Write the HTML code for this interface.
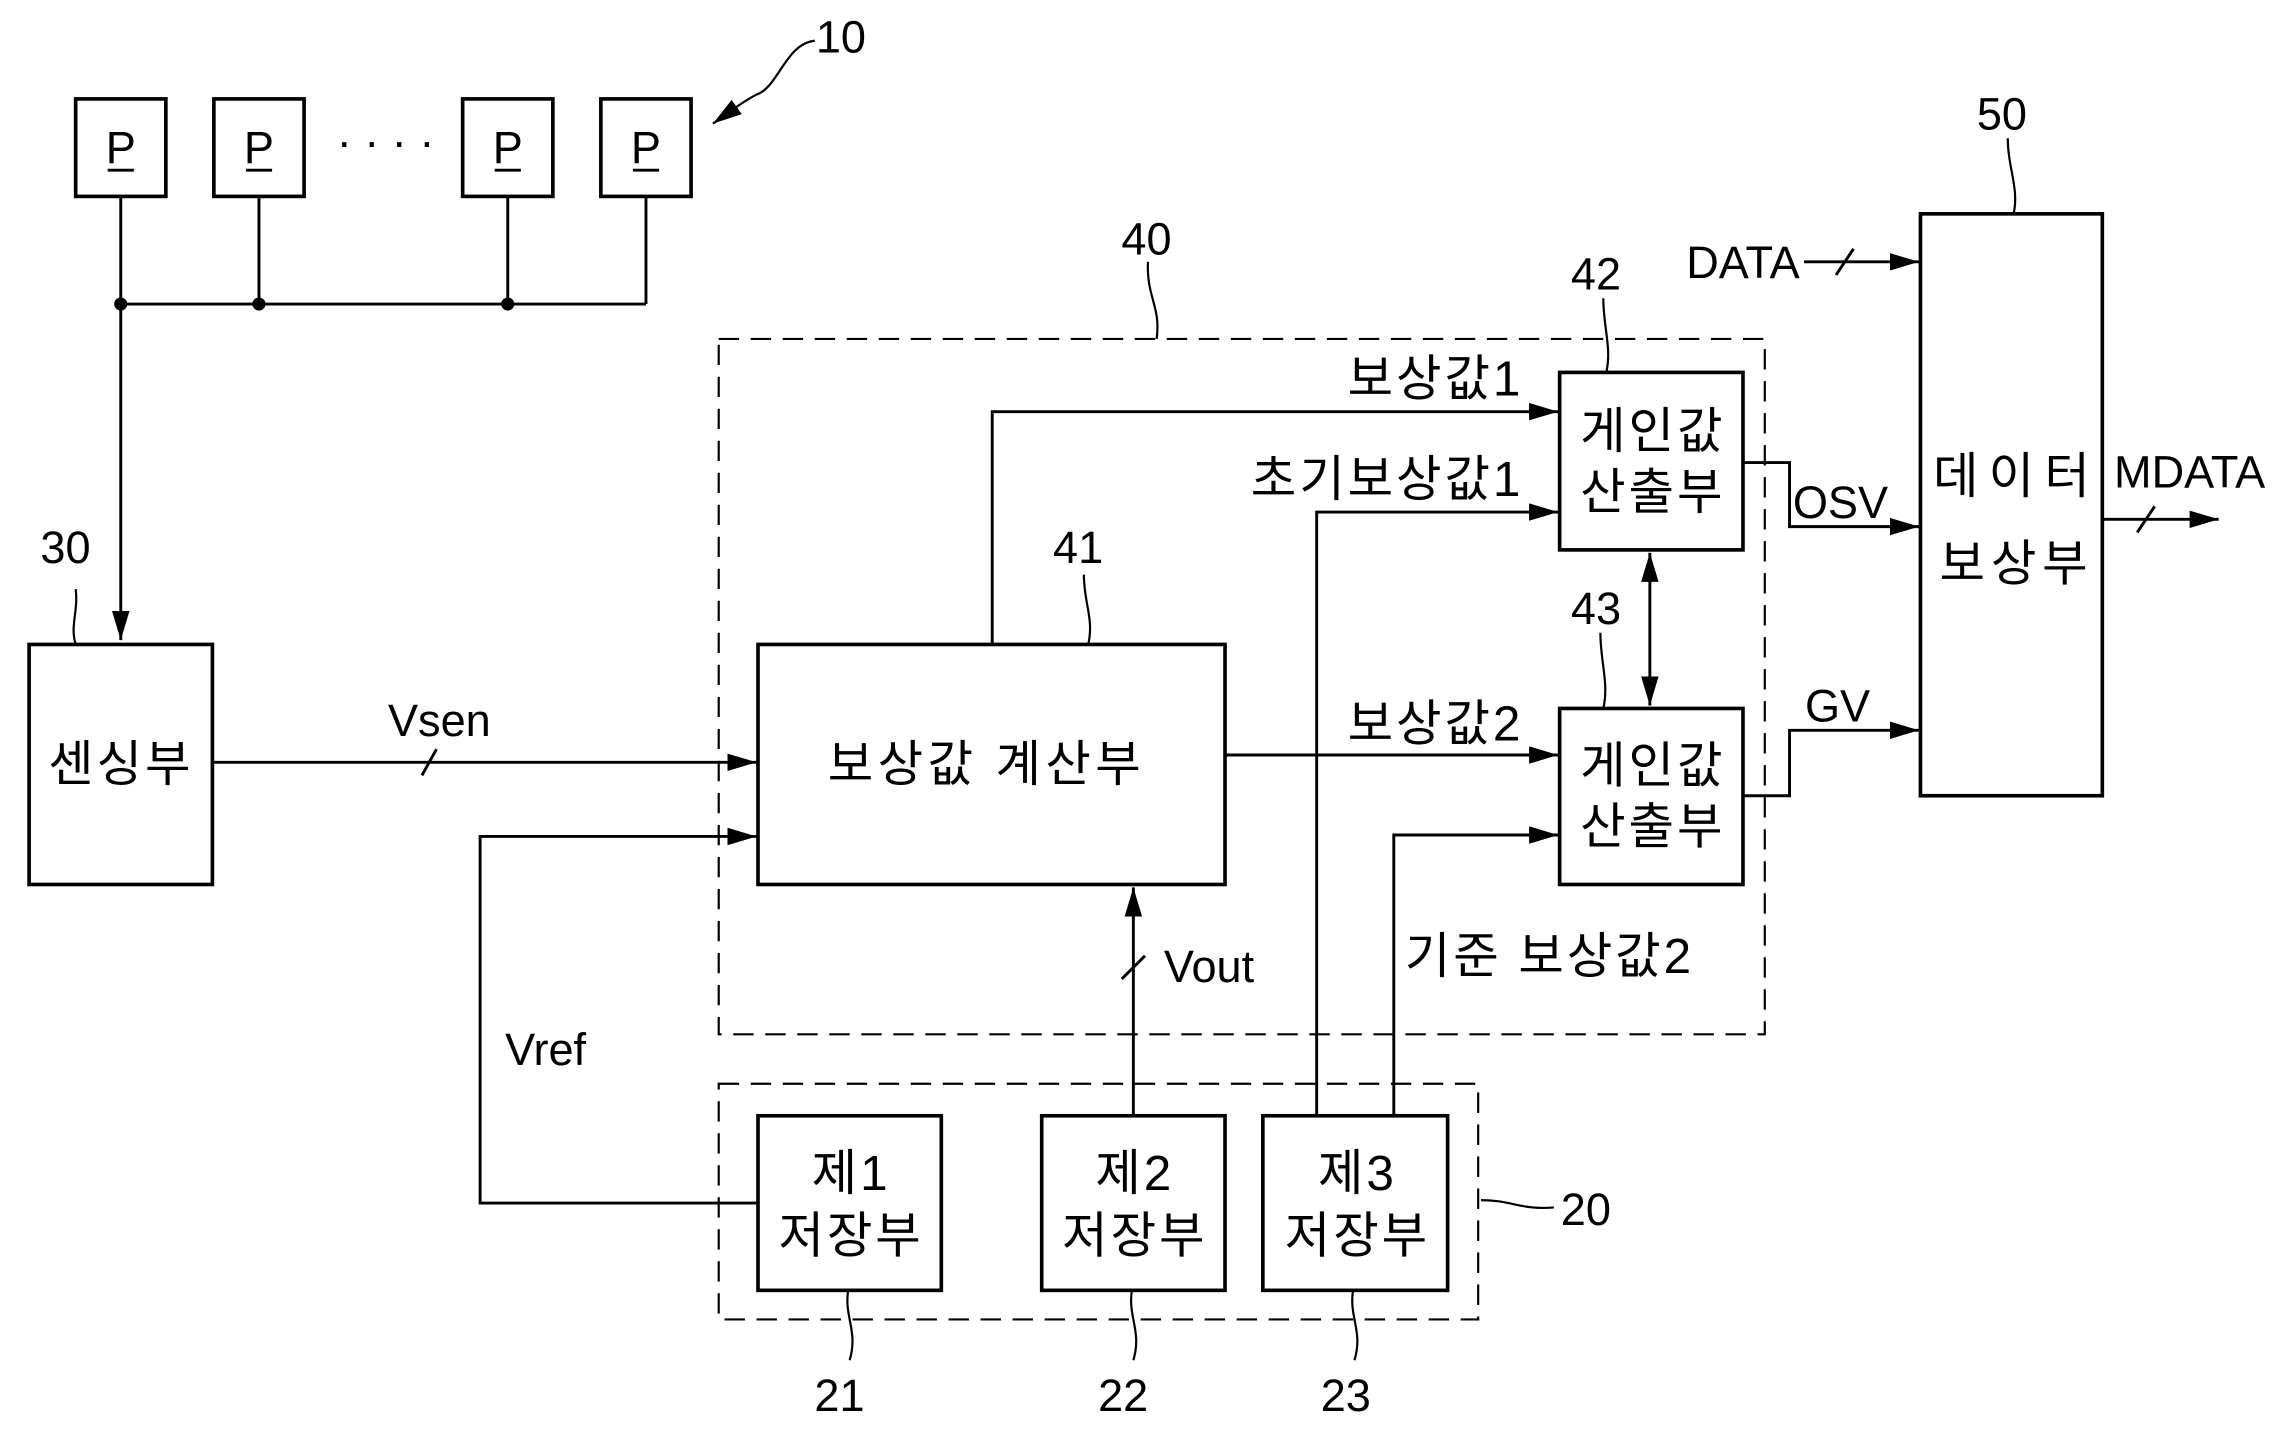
<!DOCTYPE html>
<html><head><meta charset="utf-8"><style>
html,body{margin:0;padding:0;background:#fff;width:2274px;height:1446px;overflow:hidden}
svg{display:block}
text{font-family:"Liberation Sans","Noto Sans CJK KR",sans-serif;fill:#000}
.k{font-size:34px;letter-spacing:2px}
.n{font-size:31px;font-family:"Liberation Sans Narrow","Liberation Sans",sans-serif}
</style></head><body>
<svg width="2274" height="1446" viewBox="0 0 1563 994" preserveAspectRatio="none" xmlns="http://www.w3.org/2000/svg">
<defs><marker id="a" markerWidth="20" markerHeight="12" refX="20" refY="6" orient="auto" markerUnits="userSpaceOnUse"><path d="M0,0 L20,6 L0,12 Z" fill="#000"/></marker>
<marker id="b" markerWidth="20" markerHeight="12" refX="20" refY="6" orient="auto-start-reverse" markerUnits="userSpaceOnUse"><path d="M0,0 L20,6 L0,12 Z" fill="#000"/></marker></defs>
<g fill="none" stroke="#000" stroke-width="2">
<rect x="52" y="68" width="62" height="67" stroke-width="2.5"/>
<rect x="147" y="68" width="62" height="67" stroke-width="2.5"/>
<rect x="318" y="68" width="62" height="67" stroke-width="2.5"/>
<rect x="413" y="68" width="62" height="67" stroke-width="2.5"/>
<path d="M74,117h18M169,117h18M340,117h18M435,117h18"/>
<path d="M83,135V209M178,135V209M349,135V209M444,135V209M83,209H444"/>
<path d="M83,209V440" marker-end="url(#a)"/>
<path d="M560,28 C540,30 535,60 520,65 C510,70 500,78 490,85" stroke-width="1.5" marker-end="url(#a)"/>
<rect x="20" y="443" width="126" height="165" stroke-width="2.5"/>
<path d="M52,405 C54,420 48,430 52,443" stroke-width="1.5"/>
<path d="M146,524H520" marker-end="url(#a)"/>
<path d="M290,533l10,-18"/>
<rect x="494" y="233" width="719" height="478" stroke-dasharray="14,8" stroke-width="1.5"/>
<path d="M789,180 C788,205 798,210 795,233" stroke-width="1.5"/>
<rect x="521" y="443" width="321" height="165" stroke-width="2.5"/>
<path d="M745,395 C745,415 752,425 748,443" stroke-width="1.5"/>
<path d="M521,827H330V575H520" marker-end="url(#a)"/>
<rect x="1072" y="256" width="126" height="122" stroke-width="2.5"/>
<rect x="1072" y="487" width="126" height="121" stroke-width="2.5"/>
<path d="M1102,205 C1102,225 1108,240 1104,256" stroke-width="1.5"/>
<path d="M1100,435 C1100,455 1106,470 1102,487" stroke-width="1.5"/>
<path d="M1134,380V485" marker-start="url(#b)" marker-end="url(#a)"/>
<path d="M682,443V283H1071" marker-end="url(#a)"/>
<path d="M905,767V352H1071" marker-end="url(#a)"/>
<path d="M842,519H1071" marker-end="url(#a)"/>
<path d="M958,767V574H1071" marker-end="url(#a)"/>
<path d="M779,767V610" marker-end="url(#a)"/>
<path d="M771,673l16,-16"/>
<rect x="494" y="745" width="522" height="162" stroke-dasharray="14,8" stroke-width="1.5"/>
<path d="M1018,825 C1040,825 1045,832 1068,830" stroke-width="1.5"/>
<rect x="521" y="767" width="126" height="120" stroke-width="2.5"/>
<rect x="716" y="767" width="126" height="120" stroke-width="2.5"/>
<rect x="868" y="767" width="127" height="120" stroke-width="2.5"/>
<path d="M583,887 C580,905 590,915 584,935M778,887 C775,905 785,915 779,935M930,887 C927,905 937,915 931,935" stroke-width="1.5"/>
<rect x="1320" y="147" width="125" height="400" stroke-width="2.5"/>
<path d="M1380,95 C1380,115 1388,130 1384,147" stroke-width="1.5"/>
<path d="M1240,180H1319" marker-end="url(#a)"/>
<path d="M1262,189l12,-18"/>
<path d="M1198,318H1230V362H1319" marker-end="url(#a)"/>
<path d="M1198,547H1230V502H1319" marker-end="url(#a)"/>
<path d="M1445,357H1525" marker-end="url(#a)"/>
<path d="M1469,366l12,-18"/>
</g>
<g fill="#000"><circle cx="83" cy="209" r="4.5"/><circle cx="178" cy="209" r="4.5"/><circle cx="349" cy="209" r="4.5"/></g>
<g class="n">
<text x="83" y="112" text-anchor="middle">P</text><text x="178" y="112" text-anchor="middle">P</text>
<text x="349" y="112" text-anchor="middle">P</text><text x="444" y="112" text-anchor="middle">P</text>
<text x="265" y="108" text-anchor="middle">· · · ·</text>
<text x="578" y="36" text-anchor="middle">10</text>
<text x="45" y="387" text-anchor="middle">30</text>
<text x="302" y="506" text-anchor="middle">Vsen</text>
<text x="788" y="175" text-anchor="middle">40</text>
<text x="741" y="387" text-anchor="middle">41</text>
<text x="375" y="732" text-anchor="middle">Vref</text>
<text x="1097" y="199" text-anchor="middle">42</text>
<text x="1097" y="429" text-anchor="middle">43</text>
<text x="831" y="675" text-anchor="middle">Vout</text>
<text x="1090" y="842" text-anchor="middle">20</text>
<text x="577" y="970" text-anchor="middle">21</text>
<text x="772" y="970" text-anchor="middle">22</text>
<text x="925" y="970" text-anchor="middle">23</text>
<text x="1376" y="89" text-anchor="middle">50</text>
<text x="1198" y="191" text-anchor="middle">DATA</text>
<text x="1265" y="356" text-anchor="middle">OSV</text>
<text x="1263" y="496" text-anchor="middle">GV</text>
<text x="1505" y="335" text-anchor="middle">MDATA</text>
</g>
<g class="k">
<text x="83" y="537" text-anchor="middle">센싱부</text>
<text x="678" y="537" text-anchor="middle" style="letter-spacing:3px">보상값  계산부</text>
<text x="1047" y="272" text-anchor="end">보상값1</text>
<text x="1047" y="341" text-anchor="end">초기보상값1</text>
<text x="1047" y="509" text-anchor="end">보상값2</text>
<text x="1065" y="669" text-anchor="middle">기준  보상값2</text>
<text x="1136" y="308" text-anchor="middle">게인값</text><text x="1136" y="350" text-anchor="middle">산출부</text>
<text x="1136" y="538" text-anchor="middle">게인값</text><text x="1136" y="580" text-anchor="middle">산출부</text>
<text x="585" y="818" text-anchor="middle">제1</text><text x="585" y="861" text-anchor="middle">저장부</text>
<text x="780" y="818" text-anchor="middle">제2</text><text x="780" y="861" text-anchor="middle">저장부</text>
<text x="933" y="818" text-anchor="middle">제3</text><text x="933" y="861" text-anchor="middle">저장부</text>
<text x="1386" y="339" text-anchor="middle" style="letter-spacing:7px">데이터</text><text x="1386" y="399" text-anchor="middle" style="letter-spacing:4px">보상부</text>
</g>
</svg>
</body></html>
